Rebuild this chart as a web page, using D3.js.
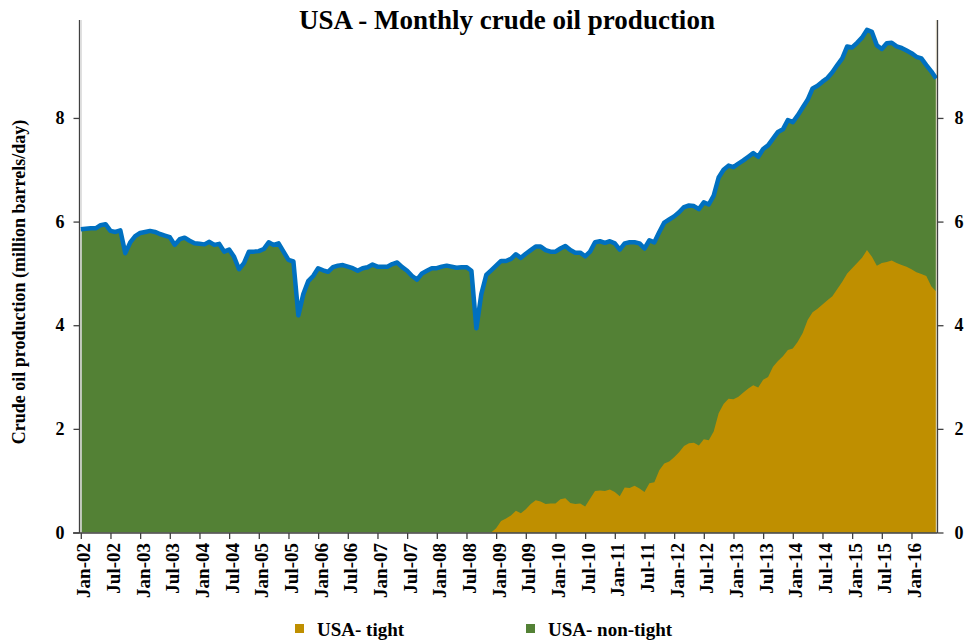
<!DOCTYPE html>
<html>
<head>
<meta charset="utf-8">
<script src="https://cdn.jsdelivr.net/npm/d3@7"></script>
<style>
  html, body { margin: 0; padding: 0; background: #fff; }
  svg { display: block; }
  text { font-family: "Liberation Serif", "Times New Roman", serif; font-weight: bold; fill: #000; }
</style>
</head>
<body>
<svg id="chart" width="966" height="643"></svg>
<script>
// ---- DATA ----
const startYear = 2002;          // first month is Jan-02
const monthNames = ["Jan","Feb","Mar","Apr","May","Jun","Jul","Aug","Sep","Oct","Nov","Dec"];

// Total US crude oil production (million barrels/day), Jan-02 .. Jun-16
const total = [
  5.85,5.86,5.87,5.87,5.93,5.95,5.82,5.80,5.83,5.39,5.60,5.72,
  5.78,5.80,5.82,5.80,5.76,5.73,5.70,5.55,5.66,5.69,5.63,5.58,
  5.57,5.56,5.61,5.55,5.57,5.42,5.46,5.32,5.08,5.20,5.42,5.42,
  5.43,5.47,5.60,5.55,5.58,5.42,5.26,5.23,4.19,4.60,4.85,4.95,
  5.10,5.06,5.03,5.12,5.15,5.16,5.13,5.10,5.05,5.10,5.12,5.17,
  5.13,5.13,5.13,5.18,5.21,5.12,5.05,4.95,4.88,5.00,5.05,5.10,
  5.10,5.13,5.15,5.13,5.11,5.12,5.12,5.05,3.94,4.60,4.97,5.06,
  5.15,5.24,5.24,5.28,5.37,5.30,5.38,5.45,5.52,5.52,5.45,5.42,
  5.42,5.48,5.53,5.45,5.40,5.40,5.33,5.42,5.60,5.62,5.59,5.62,
  5.58,5.46,5.58,5.60,5.60,5.58,5.48,5.64,5.60,5.80,5.98,6.04,
  6.10,6.18,6.28,6.31,6.30,6.24,6.37,6.33,6.50,6.85,7.00,7.08,
  7.05,7.12,7.18,7.25,7.32,7.25,7.40,7.47,7.60,7.73,7.78,7.96,
  7.92,8.05,8.20,8.35,8.57,8.62,8.70,8.77,8.88,9.02,9.15,9.38,
  9.36,9.45,9.55,9.70,9.66,9.40,9.33,9.44,9.45,9.38,9.35,9.30,
  9.25,9.18,9.15,9.02,8.90,8.76
];

// Tight oil production (million barrels/day), Dec-08 .. Jun-16
const tightStart = "Dec-08";
const tight = [
  0.00,
  0.08,0.22,0.27,0.33,0.42,0.37,0.45,0.55,0.62,0.60,0.55,0.56,
  0.56,0.64,0.66,0.57,0.55,0.56,0.50,0.65,0.80,0.81,0.80,0.83,
  0.78,0.70,0.87,0.86,0.90,0.85,0.78,0.95,0.97,1.20,1.33,1.37,
  1.45,1.55,1.67,1.72,1.73,1.68,1.80,1.78,1.95,2.30,2.48,2.58,
  2.57,2.62,2.70,2.78,2.84,2.80,2.95,3.00,3.20,3.31,3.40,3.52,
  3.55,3.68,3.85,4.10,4.25,4.32,4.40,4.48,4.56,4.70,4.84,5.00,
  5.10,5.20,5.30,5.45,5.32,5.15,5.20,5.22,5.25,5.20,5.16,5.13,
  5.08,5.02,4.99,4.95,4.75,4.65
];

const tickLabels = [
  "Jan-02","Jul-02","Jan-03","Jul-03","Jan-04","Jul-04","Jan-05","Jul-05",
  "Jan-06","Jul-06","Jan-07","Jul-07","Jan-08","Jul-08","Jan-09","Jul-09",
  "Jan-10","Jul-10","Jan-11","Jul-11","Jan-12","Jul-12","Jan-13","Jul-13",
  "Jan-14","Jul-14","Jan-15","Jul-15","Jan-16"
];
const yTicks = [0, 2, 4, 6, 8];
const seriesNames = ["USA- tight", "USA- non-tight"];
const seriesColors = ["#BF8F00", "#538135"];
const lineColor = "#0070C0";

// ---- BUILD ----
const months = total.map((_, i) => {
  const y = startYear + Math.floor(i / 12);
  return monthNames[i % 12] + "-" + String(y % 100).padStart(2, "0");
});
const totalData = months.map((m, i) => ({ month: m, v: total[i] }));
const t0 = months.indexOf(tightStart);
const tightData = tight.map((v, i) => ({ month: months[t0 + i], v }));

const svg = d3.select("#chart");

const x = d3.scalePoint().domain(months).range([80.8, 936.2]);
const y = d3.scaleLinear().domain([0, 9.89]).range([532.5, 20]);

// non-tight area (fills from zero up to total; tight drawn over it)
svg.append("path")
  .datum(totalData)
  .attr("fill", seriesColors[1])
  .attr("d", d3.area().x(d => x(d.month)).y0(y(0)).y1(d => y(d.v)));

svg.append("path")
  .datum(tightData)
  .attr("fill", seriesColors[0])
  .attr("d", d3.area().x(d => x(d.month)).y0(y(0)).y1(d => y(d.v)));

// thin light border lines of the plot area
svg.append("line").attr("x1", 81.3).attr("x2", 81.3).attr("y1", 20).attr("y2", 532.5)
  .attr("stroke", "#d9d9d9").attr("stroke-width", 1);
svg.append("line").attr("x1", 936.3).attr("x2", 936.3).attr("y1", 20).attr("y2", 532.5)
  .attr("stroke", "#e8e0c8").attr("stroke-width", 1);

// total line
svg.append("path")
  .datum(totalData)
  .attr("fill", "none")
  .attr("stroke", lineColor)
  .attr("stroke-width", 4.5)
  .attr("stroke-linejoin", "round")
  .attr("stroke-linecap", "butt")
  .attr("d", d3.line().x(d => x(d.month)).y(d => y(d.v)));

// axes
const axisColor = "#404040";
const gL = svg.append("g").attr("transform", "translate(79.5,0)")
  .call(d3.axisLeft(y).tickValues(yTicks).tickFormat(d3.format("d")).tickSize(6).tickPadding(9));
const gR = svg.append("g").attr("transform", "translate(937.5,0)")
  .call(d3.axisRight(y).tickValues(yTicks).tickFormat(d3.format("d")).tickSize(6).tickPadding(11));
const gB = svg.append("g").attr("transform", "translate(0,533)")
  .call(d3.axisBottom(x).tickValues(tickLabels).tickSize(6).tickSizeOuter(0));

[gL, gR, gB].forEach(g => {
  g.select(".domain").attr("stroke", axisColor).attr("stroke-width", 1.3);
  g.selectAll(".tick line").attr("stroke", axisColor).attr("stroke-width", 1.3);
});
gL.select(".domain").attr("d", "M0,20V533");
gR.select(".domain").attr("d", "M0,20V533");
gB.select(".domain").attr("d", "M73,0H937.5");

[gL, gR].forEach(g => g.selectAll(".tick text")
  .attr("font-size", 18).attr("font-family", "Liberation Serif, Times New Roman, serif")
  .attr("font-weight", "bold").attr("fill", "#000"));

gB.selectAll(".tick text")
  .attr("font-size", 19).attr("font-family", "Liberation Serif, Times New Roman, serif")
  .attr("font-weight", "bold").attr("fill", "#000")
  .attr("text-anchor", "end")
  .attr("transform", "rotate(-90)")
  .attr("x", -10).attr("y", 0).attr("dy", "0.47em");

// title
svg.append("text")
  .attr("x", 507).attr("y", 29)
  .attr("text-anchor", "middle")
  .attr("font-size", 27)
  .text("USA - Monthly crude oil production");

// y-axis title
svg.append("text")
  .attr("transform", "translate(25,282) rotate(-90)")
  .attr("text-anchor", "middle")
  .attr("font-size", 18)
  .text("Crude oil production (million barrels/day)");

// legend
const legendX = [295, 526];
seriesNames.forEach((name, i) => {
  svg.append("rect").attr("x", legendX[i]).attr("y", 624).attr("width", 9).attr("height", 9)
    .attr("fill", seriesColors[i]);
  svg.append("text").attr("x", legendX[i] + 22).attr("y", 636)
    .attr("font-size", 19).text(name);
});
</script>
</body>
</html>
